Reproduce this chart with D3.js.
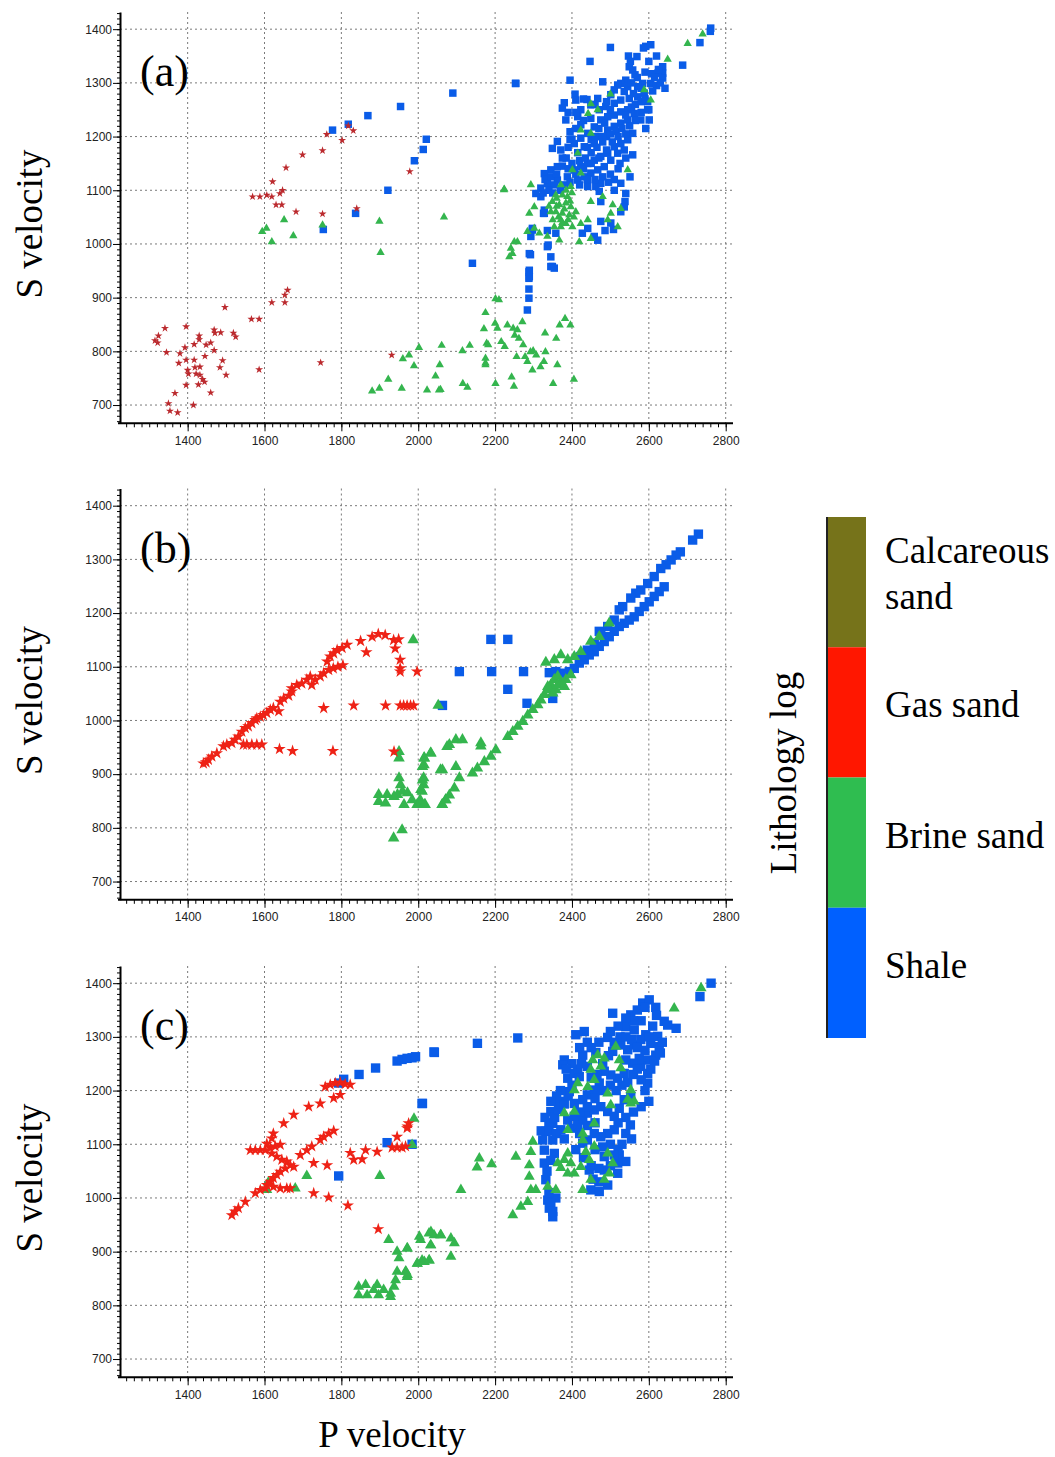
<!DOCTYPE html>
<html>
<head>
<meta charset="utf-8">
<script src="https://cdn.jsdelivr.net/npm/d3@7"></script>
<style>
  body { margin: 0; background: #fff; }
  .tick text { font-family: "Liberation Sans", Arial, sans-serif; font-size: 12px; fill: #222; }
  .serif { font-family: "Liberation Serif", "Times New Roman", serif; fill: #000; }
</style>
</head>
<body>
<div id="chart"></div>
<script>
// ---- tick labels / categories ----
const xTicks = [1400, 1600, 1800, 2000, 2200, 2400, 2600, 2800];
const yTicks = [700, 800, 900, 1000, 1100, 1200, 1300, 1400];
const panelNames = ["(a)", "(b)", "(c)"];
const lithologies = ["Calcareous sand", "Gas sand", "Brine sand", "Shale"];
const lithColors = ["#76731a", "#ff1700", "#2fbd50", "#0060ff"];

// ---- panel (a) : [P velocity, S velocity] ----
const gasA = [[1569,1088],[1588,1088],[1606,1091],[1619,1088],[1640,1094],[1647,1100],[1630,1073],[1645,1073],
  [1621,1116],[1656,1142],[1699,1166],[1751,1174],[1762,1204],[1802,1193],[1818,1220],[1831,1211],[1682,1060],
  [1751,1056],[1840,1066],[1497,882],[1566,860],[1586,860],[1619,891],[1653,891],[1653,905],[1660,914],[1746,779],
  [1586,766],[1341,843],[1324,829],[1315,820],[1322,816],[1345,798],[1396,846],[1380,796],[1377,778],[1393,807],
  [1396,784],[1417,813],[1430,829],[1430,822],[1448,812],[1460,816],[1469,840],[1471,834],[1486,835],[1469,802],
  [1445,791],[1491,783],[1484,770],[1500,756],[1519,834],[1525,827],[1400,765],[1402,758],[1417,784],[1419,770],
  [1422,758],[1432,771],[1432,756],[1439,748],[1444,743],[1428,738],[1396,737],[1367,722],[1460,723],[1350,703],
  [1354,689],[1374,686],[1415,700],[1978,1135],[1931,793]];
const brineA = [[1594,1023],[1605,1029],[1619,1004],[1651,1045],[1675,1015],[1751,1035],
  [2701,1373],[2740,1391],[2649,1344],[2500,1279],[2449,1261],[2467,1250],[2442,1243],[2423,1212],[2449,1206],
  [2415,1169],[2423,1132],[2401,1138],[2397,1107],[2371,1110],[2358,1091],[2375,1091],[2388,1088],[2349,1079],
  [2367,1073],[2384,1076],[2397,1069],[2358,1060],[2375,1057],[2393,1054],[2410,1060],[2371,1045],[2384,1038],
  [2371,1032],[2401,1032],[2354,1032],[2293,1110],[2289,1057],[2224,1102],[2302,1069],[2423,1038],[2441,1045],
  [2493,1045],[2506,1073],[2501,1057],[2449,1079],[2480,1088],[2519,1032],[2527,1066],[2284,1023],[2302,1029],
  [2315,1020],[2336,1014],[2367,1007],[2419,1004],[2449,1010],[2258,1004],[2241,992],[2237,976],[2245,982],
  [2250,1004],[2545,1138],[2605,1268],[2588,1287],
  [2345,1060],[2360,1070],[2380,1065],[2395,1080],[2365,1050],[2390,1045],[2405,1050],[2350,1045],[2375,1040],
  [2360,1085],[2385,1100],[2400,1095],[2340,1070],
  [2175,872],[2201,898],[2210,896],[2171,842],[2200,852],[2206,843],[2232,849],[2247,843],[2258,840],[2271,855],
  [2251,830],[2262,824],[2178,815],[2182,812],[2216,818],[2225,809],[2273,812],[2278,790],[2292,799],[2299,801],
  [2307,793],[2284,781],[2331,799],[2330,834],[2359,824],[2368,849],[2382,861],[2396,849],[2327,781],[2318,771],
  [2297,765],[2362,775],[2351,740],[2405,748],[2256,790],[2243,752],[2249,735],[2201,740],[2175,787],[2175,778],
  [2175,775],[2134,811],[2115,801],[2116,740],[2128,733],[2061,811],[2056,775],[2045,754],[2023,728],[2054,728],
  [2058,729],[2002,807],[1989,773],[1976,793],[1960,786],[1957,731],[1922,748],[1899,731],[1880,726],[1899,1042],
  [1902,984],[2067,1050],[2223,1101]];
const shaleA = [[1777,1212],[1818,1223],[1753,1027],[1837,1057],[1921,1100],
  [1869,1239],[1954,1256],[2090,1281],[2253,1299],[2021,1195],[2013,1176],[1990,1155],[2141,964],
  [2288,948],[2288,936],[2288,916],[2288,899],[2284,877],[2292,980],[2297,1029],[2345,976],[2349,958],[2326,1057],[2338,998],
  [2761,1402],[2760,1396],[2733,1375],[2688,1333],[2605,1371],[2592,1368],[2586,1365],[2500,1366],[2447,1340],
  [2569,1349],[2547,1350],[2552,1340],[2549,1330],[2558,1324],[2564,1315],[2636,1330],[2636,1318],[2636,1309],
  [2623,1318],[2607,1317],[2620,1350],[2642,1290],[2605,1299],[2584,1299],[2571,1293],[2540,1305],[2527,1299],
  [2519,1296],[2545,1293],[2536,1284],[2510,1287],[2501,1278],[2480,1302],[2395,1305],[2254,1299],[2408,1279],
  [2410,1268],[2439,1269],[2467,1271],[2449,1259],[2423,1250],[2380,1263],[2375,1253],[2384,1231],[2395,1209],
  [2415,1237],[2423,1222],[2449,1234],[2471,1250],[2488,1256],[2510,1262],[2527,1268],[2549,1271],[2571,1274],
  [2588,1281],[2597,1265],[2597,1250],[2601,1231],[2592,1215],[2579,1231],[2562,1243],[2545,1250],[2527,1246],
  [2510,1240],[2493,1237],[2475,1231],[2458,1218],[2441,1206],[2423,1197],[2406,1187],[2432,1181],[2458,1187],
  [2475,1200],[2493,1212],[2510,1219],[2527,1225],[2545,1231],[2558,1206],[2545,1194],[2527,1187],[2510,1181],
  [2493,1169],[2475,1163],[2458,1156],[2441,1150],[2423,1144],[2406,1138],[2415,1119],[2432,1125],[2449,1132],
  [2467,1138],[2484,1144],[2501,1156],[2519,1169],[2536,1175],[2558,1166],[2362,1191],[2371,1175],[2349,1178],
  [2362,1144],[2345,1138],[2328,1131],[2336,1113],[2319,1104],[2319,1088],[2306,1094],[2362,1119],[2388,1125],
  [2441,1107],[2462,1107],[2475,1113],[2471,1098],[2510,1100],[2527,1113],[2540,1094],[2538,1079],[2536,1069],
  [2527,1060],[2475,1079],[2501,1039],[2508,1027],[2475,1042],[2486,1025],[2458,1014],[2467,1007],[2441,1029],
  [2427,1020],[2358,1020],[2336,1025],[2328,1057],[2328,1063],[2297,1026],[2293,1014],[2289,982],[2345,958],
  [2354,955],[2289,951],[2289,939],[2336,995],[2551,1125],
  [2330,1120],[2345,1125],[2355,1110],[2340,1100],[2325,1095],[2350,1095],[2370,1100],[2380,1110],[2395,1115],
  [2410,1130],[2420,1155],[2435,1160],[2450,1170],[2465,1180],[2480,1190],[2490,1200],[2500,1205],[2515,1210],
  [2530,1215],[2540,1240],[2555,1255],[2565,1260],[2580,1265],[2590,1270],[2610,1285],[2620,1295],[2630,1300],
  [2615,1310],[2625,1325],[2580,1290],[2560,1280],[2450,1195],[2440,1180],[2460,1200],[2470,1215],[2485,1225],
  [2500,1250],[2490,1265],[2460,1260],[2430,1230],[2410,1215],[2400,1195],[2390,1180],[2385,1160],[2400,1150],
  [2415,1170],[2430,1140],[2450,1150],[2470,1160],[2490,1175],[2505,1190],[2520,1200],[2540,1205],[2550,1220],
  [2565,1230],[2580,1245],[2600,1250],[2520,1140],[2500,1130],[2480,1125],[2460,1120],[2440,1120],[2420,1110],
  [2495,1115],[2510,1120],[2525,1150],[2540,1160],[2360,1130],[2375,1145],[2390,1140],[2375,1160],[2395,1195],
  [2410,1245],[2390,1245],[2430,1270],[2555,1300],[2570,1310],[2590,1320],[2600,1340]];

// ---- panel (b) ----
const gasB = [[1448,922],[1454,927],[1463,933],[1476,939],[1493,952],[1502,955],[1515,958],[1523,964],[1532,970],
  [1541,979],[1550,986],[1558,989],[1567,995],[1576,1001],[1580,1004],[1589,1007],[1597,1010],[1606,1014],
  [1615,1020],[1623,1023],[1637,1017],[1641,1035],[1650,1041],[1663,1046],[1671,1054],[1671,1060],[1684,1066],
  [1697,1069],[1710,1076],[1719,1082],[1723,1066],[1732,1076],[1745,1082],[1754,1088],[1767,1094],[1779,1097],
  [1791,1100],[1804,1103],[1763,1110],[1771,1119],[1780,1125],[1789,1131],[1802,1135],[1815,1141],[1850,1148],
  [1880,1156],[1865,1127],[1896,1161],[1914,1159],[1936,1150],[1949,1151],[1940,1134],[1953,1113],[1953,1097],
  [1953,1091],[1997,1091],[1953,1028],[1962,1028],[1971,1028],[1980,1028],[1988,1028],[1832,1028],[1915,1028],
  [1754,1023],[1545,955],[1554,955],[1567,955],[1580,955],[1593,955],[1639,947],[1673,943],[1778,943],[1937,942],
  [1441,920]];
const brineB = [[1987,1150],[2052,1028],[1950,942],[1950,930],[2032,939],[2015,930],[2015,917],[2058,908],
  [2075,951],[1950,893],[1954,880],[1959,868],[1946,862],[1937,858],[2014,893],[2014,880],[2010,868],[2005,852],
  [2018,843],[1997,843],[1984,852],[1963,843],[1919,862],[1897,862],[1897,849],[1915,846],[2062,843],[2071,852],
  [1958,796],[1936,781],
  [2016,930],[2033,939],[2081,955],[2098,964],[2115,964],[2163,958],[2163,952],[2011,914],[2063,908],[2098,914],
  [1972,865],[2003,846],[2016,843],[2007,871],[2011,889],[2063,843],[2072,852],[2081,861],[2094,874],[2107,893],
  [2141,902],[2154,911],[2172,923],[2189,933],[2202,945],[2233,970],[2246,979],[2259,989],[2272,998],[2285,1010],
  [2298,1020],[2311,1029],[2319,1038],[2328,1048],[2337,1057],[2345,1066],[2354,1076],[2363,1082],[2371,1072],
  [2384,1076],[2397,1085],[2332,1108],[2354,1113],[2371,1122],[2389,1113],[2406,1119],[2423,1128],[2449,1147],
  [2471,1156],[2497,1181],[2337,1063],[2350,1051],[2358,1057],[2363,1066],[2380,1063]];
const shaleB = [[2729,1347],[2714,1336],[2682,1314],[2671,1308],[2658,1299],[2645,1290],[2631,1283],[2614,1268],
  [2640,1249],[2627,1240],[2614,1231],[2601,1221],[2588,1212],[2575,1203],[2562,1193],[2549,1187],[2536,1181],
  [2523,1175],[2510,1166],[2497,1156],[2484,1147],[2471,1138],[2458,1128],[2445,1122],[2432,1113],[2419,1107],
  [2406,1097],[2393,1091],[2376,1088],[2358,1091],[2341,1089],[2579,1243],[2566,1237],[2553,1228],[2532,1212],
  [2523,1206],[2471,1166],[2458,1144],[2440,1131],[2423,1119],[2189,1151],[2233,1151],[2107,1091],[2191,1091],
  [2274,1091],[2233,1058],[2283,1032],[2063,1028],[2350,1041],[2597,1255],[2510,1187],[2493,1175],[2475,1159]];

// ---- panel (c) ----
const gasC = [[1758,1207],[1771,1211],[1784,1214],[1797,1215],[1810,1212],[1823,1211],[1780,1186],[1797,1192],
  [1745,1176],[1715,1170],[1676,1155],[1650,1139],[1623,1120],[1619,1111],[1563,1089],[1576,1089],[1589,1089],
  [1602,1089],[1615,1093],[1628,1096],[1641,1099],[1606,1101],[1619,1083],[1632,1077],[1645,1071],[1658,1068],
  [1667,1061],[1676,1058],[1654,1055],[1641,1049],[1632,1043],[1623,1037],[1615,1030],[1606,1024],[1602,1018],
  [1623,1021],[1641,1018],[1658,1018],[1667,1018],[1515,968],[1523,975],[1532,981],[1550,993],[1576,1009],
  [1589,1015],[1693,1080],[1710,1089],[1723,1096],[1745,1108],[1754,1114],[1767,1120],[1780,1125],[1728,1065],
  [1763,1061],[1728,1009],[1767,1001],[1817,986],[1896,942],[1823,1084],[1832,1071],[1854,1072],[1863,1089],
  [1893,1086],[1945,1114],[1971,1130],[1975,1139],[1932,1094],[1945,1094],[1958,1094],[1967,1096],[1972,1133]];
const brineC = [[1610,1029],[1606,1015],[1680,1018],[1710,1041],[1900,1041],[1989,1148],[1984,1099],[1923,922],
  [1945,900],[1971,906],[1950,888],[1945,863],[1967,863],[1971,853],[1997,878],[2010,884],[2028,884],[2006,922],
  [2028,934],[2041,931],[2058,931],[2032,912],[1845,835],[1845,819],[1863,838],[1867,819],[1893,838],[1897,819],
  [1910,829],[1928,822],[1928,816],[1937,835],[1941,847],[1884,829],
  [2003,928],[2033,937],[2059,931],[2085,925],[2094,916],[2033,912],[1972,906],[1998,878],[2016,881],[2029,884],
  [2085,891],[1968,863],[1972,857],[2111,1015],[2153,1057],[2159,1074],[2191,1063],[2254,1077],[2246,968],
  [2267,984],[2285,993],[2293,1015],[2306,1015],[2289,1040],[2289,1061],[2293,1086],[2298,1105],[2337,1021],
  [2358,1015],[2363,1065],[2371,1056],[2380,1071],[2389,1083],[2397,1065],[2406,1046],[2389,1046],[2423,1058],
  [2436,1086],[2445,1071],[2458,1096],[2428,1015],[2449,1034],[2484,1034],[2497,1046],[2506,1065],[2493,1083],
  [2458,1139],[2428,1120],[2428,1108],[2389,1127],[2454,1257],[2467,1266],[2484,1260],[2475,1245],[2449,1239],
  [2406,1201],[2415,1214],[2441,1207],[2458,1220],[2501,1173],[2493,1195],[2523,1257],[2514,1282],[2553,1201],
  [2562,1180],[2553,1176],[2666,1353],[2736,1391],[2527,1242],[2545,1183],[2380,1158],[2406,1161]];
const shaleC = [[1793,1041],[1793,1214],[1806,1221],[1846,1230],[1889,1242],[1945,1255],[1958,1258],[1971,1260],
  [1984,1261],[1993,1263],[2041,1272],[2010,1176],[1919,1103],[1984,1100],
  [2762,1400],[2733,1375],[2584,1363],[2601,1369],[2618,1355],[2553,1341],[2540,1319],[2562,1313],[2592,1304],
  [2640,1329],[2649,1322],[2671,1316],[2506,1344],[2432,1310],[2410,1304],[2493,1299],[2259,1298],[2154,1288],
  [2042,1271],[2011,1176],[2428,1266],[2462,1271],[2380,1257],[2376,1248],[2506,1273],[2527,1285],[2545,1276],
  [2562,1285],[2579,1295],[2605,1288],[2623,1301],[2627,1282],[2618,1266],[2597,1257],[2579,1245],[2597,1232],
  [2597,1214],[2575,1260],[2558,1251],[2540,1257],[2536,1232],[2519,1223],[2501,1229],[2484,1236],[2471,1214],
  [2458,1201],[2440,1192],[2428,1183],[2406,1176],[2389,1223],[2406,1232],[2419,1226],[2393,1198],[2367,1180],
  [2345,1161],[2350,1139],[2332,1124],[2324,1108],[2350,1108],[2371,1127],[2389,1145],[2406,1152],[2428,1145],
  [2440,1158],[2458,1164],[2475,1170],[2493,1161],[2510,1152],[2523,1167],[2536,1183],[2553,1189],[2552,1136],
  [2510,1127],[2493,1120],[2475,1114],[2458,1120],[2440,1108],[2428,1102],[2484,1077],[2523,1080],[2540,1068],
  [2519,1065],[2519,1046],[2484,1052],[2445,1052],[2449,1015],[2471,1012],[2493,1024],[2328,1065],[2332,1034],
  [2337,996],[2341,981],[2350,965],[2358,1000],[2354,1083],[2328,1089],
  [2340,1140],[2355,1150],[2365,1165],[2380,1175],[2390,1190],[2400,1210],[2415,1240],[2425,1250],[2440,1245],
  [2450,1225],[2465,1230],[2480,1250],[2495,1265],[2510,1290],[2525,1300],[2540,1300],[2555,1295],[2570,1280],
  [2590,1275],[2600,1300],[2610,1320],[2620,1340],[2580,1330],[2560,1330],[2570,1350],[2590,1355],[2540,1335],
  [2520,1320],[2500,1310],[2470,1290],[2450,1280],[2440,1290],[2420,1280],[2400,1250],[2385,1240],[2370,1200],
  [2360,1190],[2345,1180],[2330,1150],[2320,1125],[2340,1125],[2360,1120],[2380,1110],[2400,1130],[2415,1135],
  [2420,1160],[2440,1170],[2460,1185],[2480,1200],[2500,1210],[2515,1200],[2530,1210],[2545,1215],[2560,1230],
  [2570,1240],[2580,1220],[2590,1200],[2605,1240],[2615,1255],[2630,1270],[2635,1290],[2600,1180],[2580,1170],
  [2560,1160],[2540,1150],[2520,1140],[2500,1100],[2480,1095],[2460,1090],[2540,1120],[2555,1110],[2530,1100],
  [2520,1090],[2510,1080],[2500,1060],[2470,1030],[2455,1035],[2340,1010],[2345,990],[2350,975],[2335,1050],
  [2345,1070],[2460,1140],[2440,1135],[2420,1120],[2410,1090],[2430,1075],[2450,1060],[2470,1055]];

const panels = [
  { gas: gasA, brine: brineA, shale: shaleA, star: 20, tri: 30, sq: 56, gasColor: "#bb2a2e" },
  { gas: gasB, brine: brineB, shale: shaleB, star: 48, tri: 58, sq: 88, gasColor: "#ee2216" },
  { gas: gasC, brine: brineC, shale: shaleC, star: 46, tri: 52, sq: 88, gasColor: "#ee2216" }
];

const width = 1055, height = 1457;
const panelTops = [12, 488.5, 966];
const plotH = 411.3;

const svg = d3.select("#chart").append("svg")
    .attr("width", width)
    .attr("height", height);

const x = d3.scaleLinear().domain([1224, 2819]).range([120, 733]);
const y = d3.scaleLinear().domain([666, 1432]).range([plotH, 0]);
const fmt = d3.format("d");

panels.forEach((p, i) => {
    const g = svg.append("g").attr("transform", `translate(0,${panelTops[i]})`);

    // dotted grid
    g.append("g").selectAll("line").data(xTicks).join("line")
        .attr("x1", d => x(d)).attr("x2", d => x(d))
        .attr("y1", 0).attr("y2", plotH)
        .attr("stroke", "#7a7a7a").attr("stroke-dasharray", "2,3");
    g.append("g").selectAll("line").data(yTicks).join("line")
        .attr("x1", 120).attr("x2", 733)
        .attr("y1", d => y(d)).attr("y2", d => y(d))
        .attr("stroke", "#7a7a7a").attr("stroke-dasharray", "2,3");

    // minor ticks
    g.append("g").attr("transform", `translate(0,${plotH})`)
        .call(d3.axisBottom(x).tickValues(d3.range(1240, 2820, 20)).tickSize(4).tickSizeOuter(0).tickFormat(""))
        .call(a => a.select(".domain").remove());
    g.append("g").attr("transform", "translate(120,0)")
        .call(d3.axisLeft(y).tickValues(d3.range(670, 1431, 10)).tickSize(3).tickSizeOuter(0).tickFormat(""))
        .call(a => a.select(".domain").remove());

    // major ticks + labels
    g.append("g").attr("transform", `translate(0,${plotH})`)
        .call(d3.axisBottom(x).tickValues(xTicks).tickFormat(fmt).tickSize(8).tickSizeOuter(0).tickPadding(5))
        .call(a => a.select(".domain").attr("stroke-width", 2).attr("d", `M118,0H733`));
    g.append("g").attr("transform", "translate(120,0)")
        .call(d3.axisLeft(y).tickValues(yTicks).tickFormat(fmt).tickSize(7).tickSizeOuter(0).tickPadding(1))
        .call(a => a.select(".domain").attr("stroke-width", 2));

    // marks: shale, brine, gas
    g.append("g").selectAll("path").data(p.shale).join("path")
        .attr("transform", d => `translate(${x(d[0])},${y(d[1])})`)
        .attr("d", d3.symbol(d3.symbolSquare, p.sq))
        .attr("fill", "#0a5ce8");
    g.append("g").selectAll("path").data(p.brine).join("path")
        .attr("transform", d => `translate(${x(d[0])},${y(d[1])})`)
        .attr("d", d3.symbol(d3.symbolTriangle, p.tri))
        .attr("fill", "#34b54e");
    g.append("g").selectAll("path").data(p.gas).join("path")
        .attr("transform", d => `translate(${x(d[0])},${y(d[1])})`)
        .attr("d", d3.symbol(d3.symbolStar, p.star))
        .attr("fill", p.gasColor);

    g.append("text").attr("class", "serif")
        .attr("x", 140).attr("y", 74)
        .attr("font-size", 44)
        .text(panelNames[i]);

    g.append("text").attr("class", "serif")
        .attr("transform", `translate(42,${212}) rotate(-90)`)
        .attr("text-anchor", "middle")
        .attr("font-size", 37)
        .text("S velocity");
});

svg.append("text").attr("class", "serif")
    .attr("x", 392).attr("y", 1447)
    .attr("text-anchor", "middle")
    .attr("font-size", 37)
    .text("P velocity");

// legend colour bar
const band = d3.scaleBand().domain(lithologies).range([517, 1038]);
svg.append("g").selectAll("rect").data(lithologies).join("rect")
    .attr("x", 826).attr("width", 40)
    .attr("y", d => band(d)).attr("height", band.bandwidth())
    .attr("fill", (d, i) => lithColors[i]);
svg.append("line")
    .attr("x1", 827).attr("x2", 827).attr("y1", 517).attr("y2", 1038)
    .attr("stroke", "#222").attr("stroke-width", 2);

const legendText = svg.append("g").selectAll("text").data(lithologies).join("text")
    .attr("class", "serif")
    .attr("x", 885)
    .attr("font-size", 37);
legendText.each(function (d, i) {
    const t = d3.select(this);
    if (i === 0) {
        t.attr("y", band(d) + 46);
        t.append("tspan").attr("x", 885).text("Calcareous");
        t.append("tspan").attr("x", 885).attr("dy", 46).text("sand");
    } else {
        t.attr("y", band(d) + band.bandwidth() / 2 + 5).text(d);
    }
});

svg.append("text").attr("class", "serif")
    .attr("transform", "translate(796,773) rotate(-90)")
    .attr("text-anchor", "middle")
    .attr("font-size", 37)
    .text("Lithology log");
</script>
</body>
</html>
